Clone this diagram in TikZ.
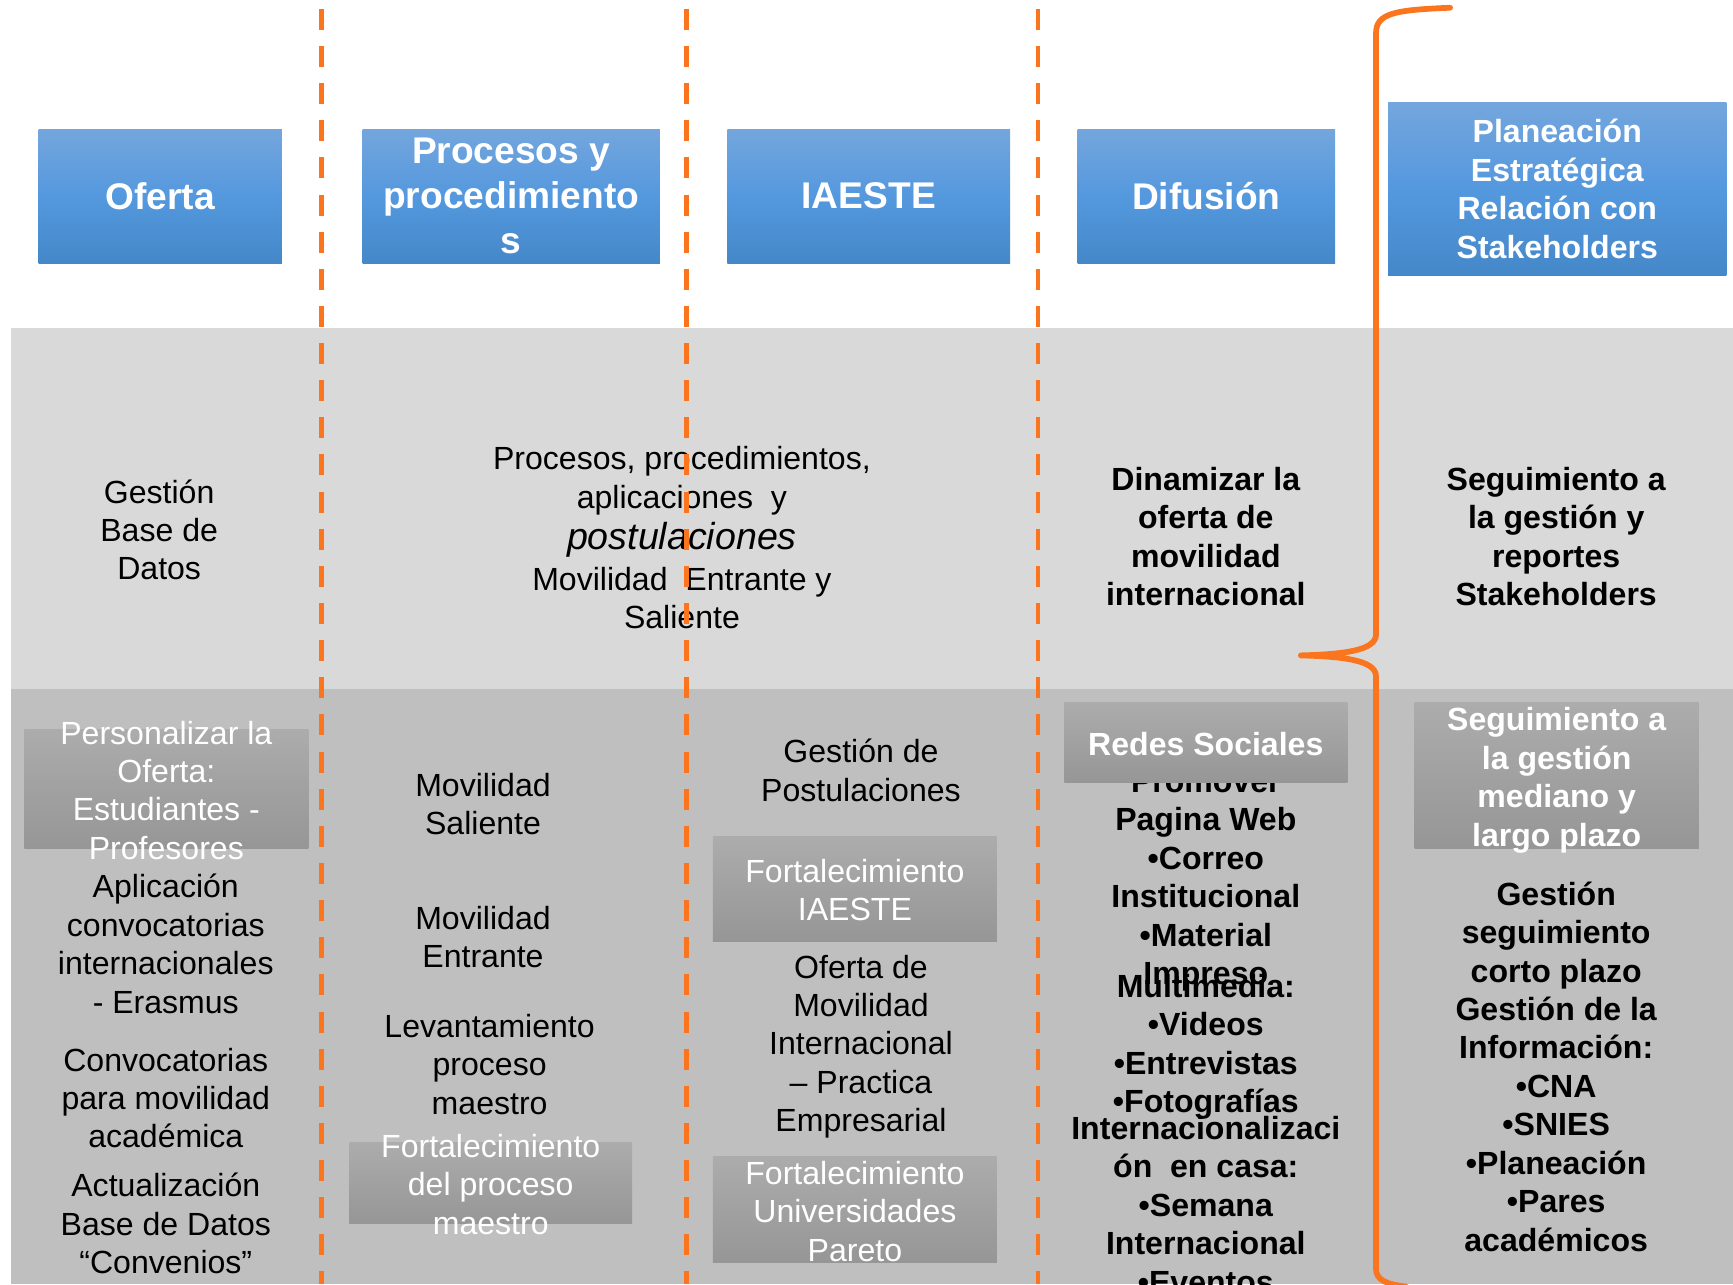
\documentclass[tikz,border=0pt]{standalone}
\usepackage{fontspec}
\setmainfont{Liberation Sans}
\definecolor{naranja}{RGB}{250,117,30}
\definecolor{azulsup}{RGB}{116,166,221}
\definecolor{azulmed}{RGB}{84,152,222}
\definecolor{azulinf}{RGB}{69,136,201}
\definecolor{grisclaro}{RGB}{217,217,217}
\definecolor{grisoscuro}{RGB}{191,191,191}
\definecolor{cajasup}{RGB}{172,172,172}
\definecolor{cajainf}{RGB}{150,150,150}

\begin{document}
\begin{tikzpicture}[x=0.5pt, y=-0.5pt,
  encabezado/.style={rectangle, top color=azulsup, bottom color=azulinf, middle color=azulmed, text=white, font=\bfseries\fontsize{16.8}{20.3}\selectfont, align=center, inner sep=0pt, minimum height=60.5pt},
  caja/.style={rectangle, top color=cajasup, bottom color=cajainf, inner sep=0pt},
  texto/.style={align=center, inner sep=0pt, font=\fontsize{14.5}{17.35}\selectfont},
  textonegrita/.style={texto, font=\bfseries\fontsize{14.5}{17.4}\selectfont},
  textoblanco/.style={texto, text=white},
  divisor/.style={naranja, line width=2pt, dash pattern=on 9.5pt off 7.3pt},
  llave/.style={naranja, line width=2.6pt, line cap=round, line join=round}]
  \useasboundingbox (0,0) rectangle (1568,1162);
  \fill[grisclaro] (10,297) rectangle (1568,623);
  \fill[grisoscuro] (10,623) rectangle (1568,1162);

  \node[encabezado, minimum width=110pt] (oferta) at (145,177.5) {Oferta};
  \node[encabezado, minimum width=134.5pt] (procesos) at (462.5,177.5) {Procesos y\\procedimiento\\s};
  \node[encabezado, minimum width=128pt] (iaeste) at (786,177.5) {IAESTE};
  \node[encabezado, minimum width=116.5pt] (difusion) at (1091.5,177.5) {Difusión};
  \node[encabezado, font=\bfseries\fontsize{14.5}{17.5}\selectfont, minimum width=153pt, minimum height=78.5pt] (planeacion) at (1409,171) {Planeación\\Estratégica\\Relación con\\Stakeholders};

  \node[texto] (gestionBD) at (144,479.5) {Gestión\\Base de\\Datos};
  \node[texto] (procMov) at (617,486.5) {Procesos, procedimientos,\\aplicaciones\ \ y\\[1.5pt]{\itshape\fontsize{17}{20}\selectfont postulaciones}\\[1pt]Movilidad\ \ Entrante y\\Saliente};
  \node[textonegrita] (dinamizar) at (1091,485.5) {Dinamizar la\\oferta de\\movilidad\\internacional};
  \node[textonegrita] (reportes) at (1408,485.5) {Seguimiento a\\la gestión y\\reportes\\Stakeholders};

  \node[caja, minimum width=128.5pt, minimum height=54pt] (cajaPers) at (150.5,714) {};
  \node[textoblanco] (personalizar) at (150.5,715) {Personalizar la\\Oferta:\\Estudiantes -\\Profesores};
  \node[texto] (aplicacion) at (150,854) {Aplicación\\convocatorias\\internacionales\\- Erasmus};
  \node[texto] (convocatorias) at (150,993.5) {Convocatorias\\para movilidad\\académica};
  \node[texto] (actualizacion) at (150,1107) {Actualización\\Base de Datos\\“Convenios”};

  \node[texto] (saliente) at (437,727.5) {Movilidad\\Saliente};
  \node[texto] (entrante) at (437,848) {Movilidad\\Entrante};
  \node[texto] (levantamiento) at (443,963) {Levantamiento\\proceso\\maestro};
  \node[caja, minimum width=128pt, minimum height=36.5pt] (cajaMaestro) at (444,1070.5) {};
  \node[textoblanco] (fortMaestro) at (444,1071.5) {Fortalecimiento\\del proceso\\maestro};

  \node[texto] (postulaciones) at (779,697) {Gestión de\\Postulaciones};
  \node[caja, minimum width=128.5pt, minimum height=47.5pt] (cajaIaeste) at (773.5,804.5) {};
  \node[textoblanco] (fortIaeste) at (773.5,805.5) {Fortalecimiento\\IAESTE};
  \node[texto] (practica) at (779,947) {Oferta de\\Movilidad\\Internacional\\– Practica\\Empresarial};
  \node[caja, minimum width=128.5pt, minimum height=48pt] (cajaPareto) at (773.5,1094) {};
  \node[textoblanco] (fortPareto) at (773.5,1096) {Fortalecimiento\\Universidades\\Pareto};

  \node[textonegrita] (promover) at (1091,797) {Promover\\Pagina Web\\•Correo\\Institucional\\•Material\\Impreso};
  \node[caja, minimum width=128pt, minimum height=36pt] (cajaRedes) at (1091,672) {};
  \node[textonegrita, text=white] (redes) at (1091,673) {Redes Sociales};
  \node[textonegrita] (multimedia) at (1091,947) {Multimedia:\\•Videos\\•Entrevistas\\•Fotografías};
  \node[textonegrita] (enCasa) at (1091,1090) {Internacionalizaci\\ón\ \ en casa:\\•Semana\\Internacional\\•Eventos};

  \node[caja, minimum width=128.5pt, minimum height=66pt] (cajaSeg) at (1408.5,702) {};
  \node[textonegrita, text=white] (largoPlazo) at (1408.5,706) {Seguimiento a\\la gestión\\mediano y\\largo plazo};
  \node[textonegrita] (cortoPlazo) at (1408,965) {Gestión\\seguimiento\\corto plazo\\Gestión de la\\Información:\\•CNA\\•SNIES\\•Planeación\\•Pares\\académicos};

  \foreach \x in {291,621,939}
    \draw[divisor] (\x,8) -- (\x,1162);

  \draw[llave] (1312,7) .. controls (1262,9) and (1245,12) .. (1245,30) -- (1245,574)
    .. controls (1245,589) and (1214,592) .. (1177,593)
    .. controls (1214,594) and (1245,597) .. (1245,612) -- (1245,1148)
    .. controls (1245,1158) and (1254,1162) .. (1272,1164);
\end{tikzpicture}
\end{document}
